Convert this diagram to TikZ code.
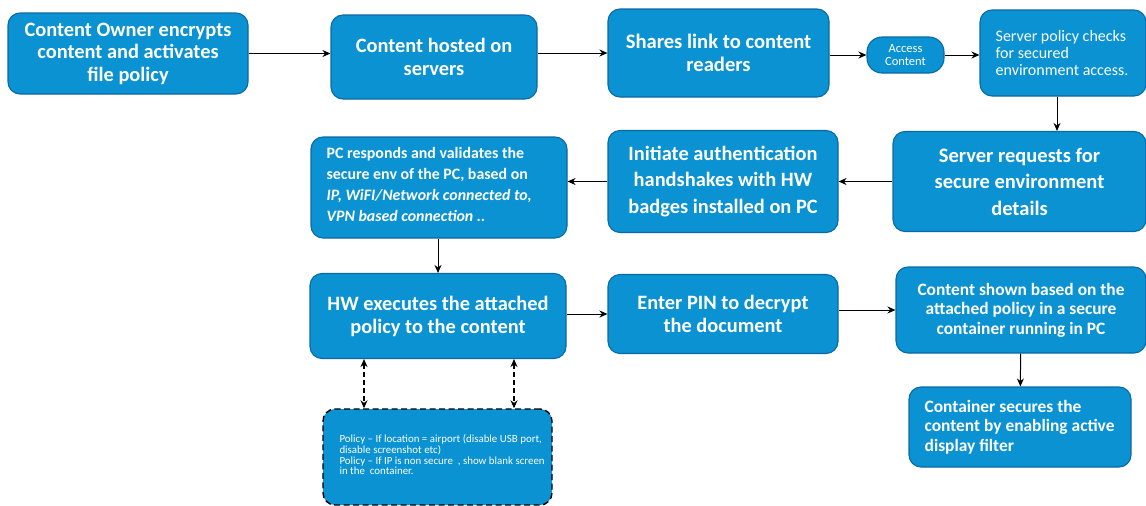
\documentclass[tikz,border=0pt]{standalone}
\usepackage{fontspec}
\setmainfont{Carlito}
\usetikzlibrary{arrows.meta}
\definecolor{boxfill}{HTML}{0A92D2}
\definecolor{boxline}{HTML}{0B6AA5}
\tikzset{
  box/.style={draw=boxline, fill=boxfill, rounded corners=12pt, text=white,
    line width=1.1pt, inner sep=0pt, align=center},
  lefttext/.style={anchor=west, text=white, align=left, inner sep=0pt},
  arr/.style={-{Stealth[length=8pt,width=7pt]}, line width=1pt, black},
  darr/.style={{Stealth[length=8pt,width=7pt]}-{Stealth[length=8pt,width=7pt]}, line width=1.1pt, black, dash pattern=on 5pt off 3pt}
}
\begin{document}
\begin{tikzpicture}[x=1pt,y=-1pt]
\useasboundingbox (0,0) rectangle (1146,506);
% row 1
\node[box,font=\fontsize{20.4}{22.5}\selectfont\bfseries,minimum width=240,minimum height=81] (owner) at (128,53.5)
  {Content Owner encrypts\\content and activates\\file policy};
\node[box,font=\fontsize{20.4}{23}\selectfont\bfseries,minimum width=206,minimum height=84] (hosted) at (434,57)
  {Content hosted on\\servers};
\node[box,font=\fontsize{20.6}{23}\selectfont\bfseries,minimum width=221,minimum height=88] (share) at (718.5,53)
  {Shares link to content\\readers};
\node[box,font=\fontsize{12.5}{13}\selectfont,minimum width=77,minimum height=36,rounded corners=15pt] (access) at (905.5,55)
  {Access\\Content};
\node[box,minimum width=166,minimum height=86] (policy) at (1063,53) {};
\node[lefttext,font=\fontsize{16}{17}\selectfont] (policy-t) at ([xshift=16,yshift=0]policy.west)
  {Server policy checks\\for secured\\environment access.};
% row 2
\node[box,font=\fontsize{20.5}{26.5}\selectfont\bfseries,minimum width=253,minimum height=100] (req) at (1019.5,181.5)
  {Server requests for\\secure environment\\details};
\node[box,font=\fontsize{20.4}{26.5}\selectfont\bfseries,minimum width=230,minimum height=102] (auth) at (723,181.5)
  {Initiate authentication\\handshakes with HW\\badges installed on PC};
\node[box,minimum width=256,minimum height=101] (pc) at (439,187.5) {};
\node[lefttext,font=\fontsize{15.9}{21}\selectfont\bfseries] (pc-t) at ([xshift=16,yshift=3]pc.west)
  {PC responds and validates the\\secure env of the PC, based on\\\textit{IP, WiFI/Network connected to,}\\\textit{VPN based connection ..}};
% row 3
\node[box,font=\fontsize{20.4}{23}\selectfont\bfseries,minimum width=256,minimum height=85] (hw) at (438,316)
  {HW executes the attached\\policy to the content};
\node[box,font=\fontsize{20.4}{23}\selectfont\bfseries,minimum width=230,minimum height=79] (pin) at (723,314)
  {Enter PIN to decrypt\\the document};
\node[box,font=\fontsize{17.4}{19.5}\selectfont\bfseries,minimum width=250,minimum height=86] (shown) at (1021,310)
  {Content shown based on the\\attached policy in a secure\\container running in PC};
\node[box,minimum width=222,minimum height=80] (cont) at (1020,427) {};
\node[lefttext,font=\fontsize{17.4}{19.5}\selectfont\bfseries] (cont-t) at ([xshift=16]cont.west)
  {Container secures the\\content by enabling active\\display filter};
\node[box,draw=black,dash pattern=on 6pt off 3.5pt,line width=1.4pt,minimum width=229,minimum height=96] (pol) at (437.5,457) {};
\node[lefttext,font=\fontsize{10.9}{10.7}\selectfont] (pol-t) at ([xshift=17,yshift=2]pol.west)
  {\lineskiplimit=-10pt\relax Policy -- If location = airport (disable USB port,\\disable screenshot etc)\\Policy -- If IP is non secure~ , show blank screen\\in the~ container.};
% arrows
\draw[arr] (owner) -- (hosted.west|-owner);
\draw[arr] (hosted.east|-share) -- (share.west);
\draw[arr] (share.east|-access) -- (access.west);
\draw[arr] (access) -- (policy.west|-access);
\draw[arr] ([xshift=-6]policy.south) -- ([xshift=-6]policy.south|-req.north);
\draw[arr] (req) -- (auth);
\draw[arr] (auth.west) -- (pc.east|-auth);
\draw[arr] (pc.south-|hw) -- (hw.north);
\draw[arr] (hw.east|-pin) -- (pin.west);
\draw[arr] (pin.east|-shown) -- (shown.west);
\draw[arr] (shown) -- (cont);
\draw[darr] ([xshift=-74]hw.south) -- ([xshift=-74]hw.south|-pol.north);
\draw[darr] ([xshift=76]hw.south) -- ([xshift=76]hw.south|-pol.north);
\end{tikzpicture}
\end{document}
